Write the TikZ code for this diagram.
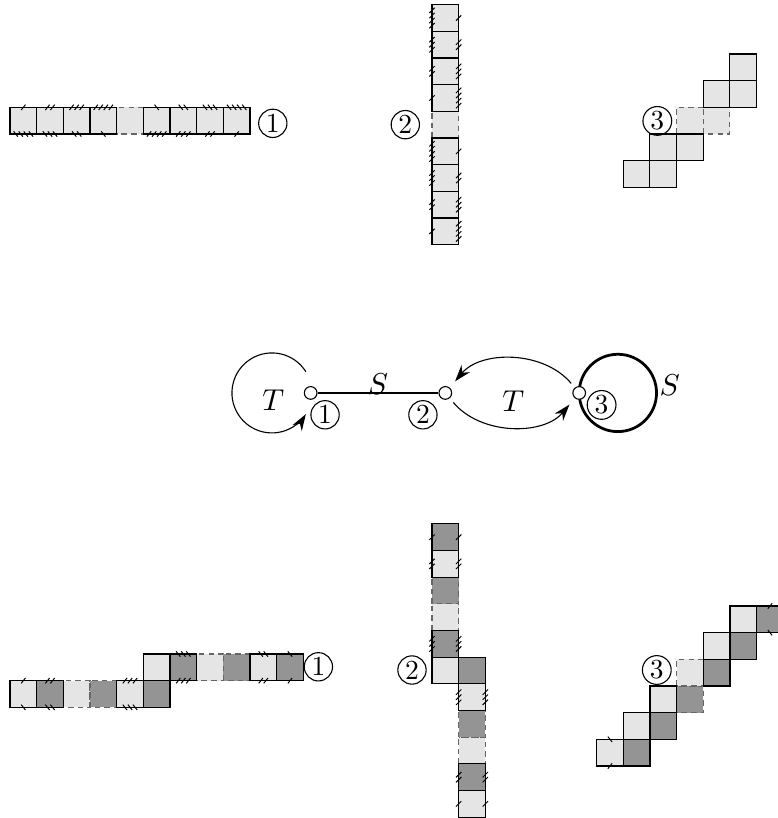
\documentclass[tikz,border=0pt]{standalone}
\usepackage{amsmath}
\usepackage{tikz}
\usetikzlibrary{arrows.meta, positioning, backgrounds}

\tikzset{
	lightcell/.style={fill=black!10, draw=black, line width=0.4pt},
	darkcell/.style={fill=black!42, draw=black, line width=0.4pt},
	ghostlight/.style={fill=black!10, draw=black!60, dash pattern=on 2pt off 1.5pt},
	ghostdark/.style={fill=black!42, draw=black!60, dash pattern=on 2pt off 1.5pt},
	tickmark/.style={line width=0.35pt},
	vertex/.style={circle, draw, fill=white, minimum size=4.6pt, inner sep=0pt},
	circled/.style={circle, draw, inner sep=0.7pt},
	maplabel/.style={font=\fontsize{11}{13}\selectfont},
	tarc/.style={-{Stealth[length=6pt,width=4pt]}, shorten <=2pt, shorten >=3pt},
	tloop/.style={-{Stealth[length=6pt,width=4pt]}},
	sedge/.style={line width=1pt}
}

% ticks on a horizontal edge: {x}{y}{number}{slant}
\newcommand{\hticks}[4]{%
	\foreach \tk in {1,...,#3}
	\draw[tickmark] ({#1+(\tk-(#3+1)/2)*0.19-(#4)*0.08},{#2-0.1}) -- ({#1+(\tk-(#3+1)/2)*0.19+(#4)*0.08},{#2+0.1});
}
% ticks on a vertical edge: {x}{y}{number}{slant}
\newcommand{\vticks}[4]{%
	\foreach \tk in {1,...,#3}
	\draw[tickmark] ({#1-0.1},{#2+(\tk-(#3+1)/2)*0.19-(#4)*0.1}) -- ({#1+0.1},{#2+(\tk-(#3+1)/2)*0.19+(#4)*0.1});
}

\begin{document}
\begin{tikzpicture}[x=0.34cm, y=0.34cm]
	\useasboundingbox (0,0) rectangle (29.14,30.675);
	
	% Top left: horizontal strip
	\draw[ghostlight] (4.375,25.65) rectangle ++(1,1);
	\foreach \i in {0,1,2,3,5,6,7,8}
	\draw[lightcell] ({0.375+\i},25.65) rectangle ++(1,1);
	\foreach \i [evaluate=\i as \nt using int(\i+1), evaluate=\i as \nb using int(4-\i)] in {0,...,3} {
		\hticks{0.875+\i}{26.65}{\nt}{1}
		\hticks{0.875+\i}{25.65}{\nb}{-1}
		\hticks{5.875+\i}{26.65}{\nt}{-1}
		\hticks{5.875+\i}{25.65}{\nb}{1}
	}
	\node[circled] (a1) at (10.23,26.05) {1};
	
	% Top middle: vertical strip
	\draw[ghostlight] (16.2,25.5) rectangle ++(1,1);
	\foreach \k in {0,1,2,3,5,6,7,8}
	\draw[lightcell] (16.2,{21.5+\k}) rectangle ++(1,1);
	\foreach \k [evaluate=\k as \nl using int(\k+1), evaluate=\k as \nr using int(4-\k)] in {0,...,3} {
		\vticks{16.2}{22+\k}{\nl}{1}
		\vticks{17.2}{22+\k}{\nr}{1}
		\vticks{16.2}{27+\k}{\nl}{1}
		\vticks{17.2}{27+\k}{\nr}{1}
	}
	\node[circled] (a2) at (15.2,26.0) {2};
	
	% Top right: staircase
	\foreach \c in {2,3}
	\draw[ghostlight] ({23.37+\c},25.65) rectangle ++(1,1);
	\foreach \c/\r in {0/0,1/0,1/1,2/1,3/3,4/3,4/4}
	\draw[lightcell] ({23.37+\c},{23.65+\r}) rectangle ++(1,1);
	\node[circled] (a3) at (24.65,26.14) {3};
	
	% Middle: the graph
	\node[vertex] (v1) at (11.65,15.94) {};
	\node[vertex] (v2) at (16.7,15.94) {};
	\node[vertex] (v3) at (21.72,15.94) {};
	\begin{scope}[on background layer]
		\draw[sedge] ([shift={(1.45,0)}]v3.center) circle[radius=1.45];
	\end{scope}
	\draw[sedge] (v1) -- node[maplabel, yshift=3pt] (s12) {$S$} (v2);
	\draw[tloop] ([shift={(-0.18,0.795)}]v1.center) arc[start angle=32, end angle=328, radius=1.5];
	\draw[tarc] (v3) to[bend right=50] (v2);
	\draw[tarc] (v2) to[bend right=50] (v3);
	\node[maplabel] (t1) at (10.25,15.66) {$T$};
	\node[maplabel] (t23) at (19.25,15.62) {$T$};
	\node[maplabel] (s3) at (25.12,16.24) {$S$};
	\node[circled] (g1) at (12.19,15.12) {1};
	\node[circled] (g2) at (15.86,15.12) {2};
	\node[circled] (g3) at (22.56,15.49) {3};
	
	% Bottom left: two shifted rows
	\draw[ghostlight] (2.375,4.15) rectangle ++(1,1);
	\draw[ghostdark] (3.375,4.15) rectangle ++(1,1);
	\draw[ghostlight] (7.375,5.15) rectangle ++(1,1);
	\draw[ghostdark] (8.375,5.15) rectangle ++(1,1);
	\foreach \i in {0,4}
	\draw[lightcell] ({0.375+\i},4.15) rectangle ++(1,1);
	\foreach \i in {1,5}
	\draw[darkcell] ({0.375+\i},4.15) rectangle ++(1,1);
	\foreach \i in {5,9}
	\draw[lightcell] ({0.375+\i},5.15) rectangle ++(1,1);
	\foreach \i in {6,10}
	\draw[darkcell] ({0.375+\i},5.15) rectangle ++(1,1);
	\foreach \i/\n in {0/1,1/2,4/3} {
		\hticks{0.875+\i}{5.15}{\n}{1}
		\hticks{0.875+\i}{4.15}{\n}{-1}
	}
	\foreach \i/\n in {6/3,9/2,10/1} {
		\hticks{0.875+\i}{6.15}{\n}{-1}
		\hticks{0.875+\i}{5.15}{\n}{1}
	}
	\node[circled] (b1) at (11.94,5.67) {1};
	
	% Bottom middle: broken column
	\draw[ghostlight] (16.2,7.03) rectangle ++(1,1);
	\draw[ghostdark] (16.2,8.03) rectangle ++(1,1);
	\draw[ghostlight] (17.2,2.03) rectangle ++(1,1);
	\draw[ghostdark] (17.2,3.03) rectangle ++(1,1);
	\foreach \r in {5,9}
	\draw[lightcell] (16.2,{0.03+\r}) rectangle ++(1,1);
	\foreach \r in {6,10}
	\draw[darkcell] (16.2,{0.03+\r}) rectangle ++(1,1);
	\foreach \r in {0,4}
	\draw[lightcell] (17.2,{0.03+\r}) rectangle ++(1,1);
	\foreach \r in {1,5}
	\draw[darkcell] (17.2,{0.03+\r}) rectangle ++(1,1);
	\foreach \r/\n in {10/1,9/2,6/3} {
		\vticks{16.2}{0.53+\r}{\n}{1}
		\vticks{17.2}{0.53+\r}{\n}{1}
	}
	\foreach \r/\n in {4/3,1/2,0/1} {
		\vticks{17.2}{0.53+\r}{\n}{1}
		\vticks{18.2}{0.53+\r}{\n}{1}
	}
	\node[circled] (b2) at (15.45,5.55) {2};
	
	% Bottom right: double staircase
	\draw[ghostdark] (25.375,3.95) rectangle ++(1,1);
	\draw[ghostlight] (25.375,4.95) rectangle ++(1,1);
	\foreach \c/\r in {0/0,1/1,2/2,4/4,5/5}
	\draw[lightcell] ({22.375+\c},{1.95+\r}) rectangle ++(1,1);
	\foreach \c/\r in {1/0,2/1,4/3,5/4,6/5}
	\draw[darkcell] ({22.375+\c},{1.95+\r}) rectangle ++(1,1);
	\hticks{22.875}{2.95}{1}{-1}
	\hticks{22.875}{1.95}{1}{1}
	\hticks{28.875}{7.95}{1}{1}
	\hticks{28.875}{6.95}{1}{-1}
	\node[circled] (b3) at (24.63,5.55) {3};
\end{tikzpicture}
\end{document}
